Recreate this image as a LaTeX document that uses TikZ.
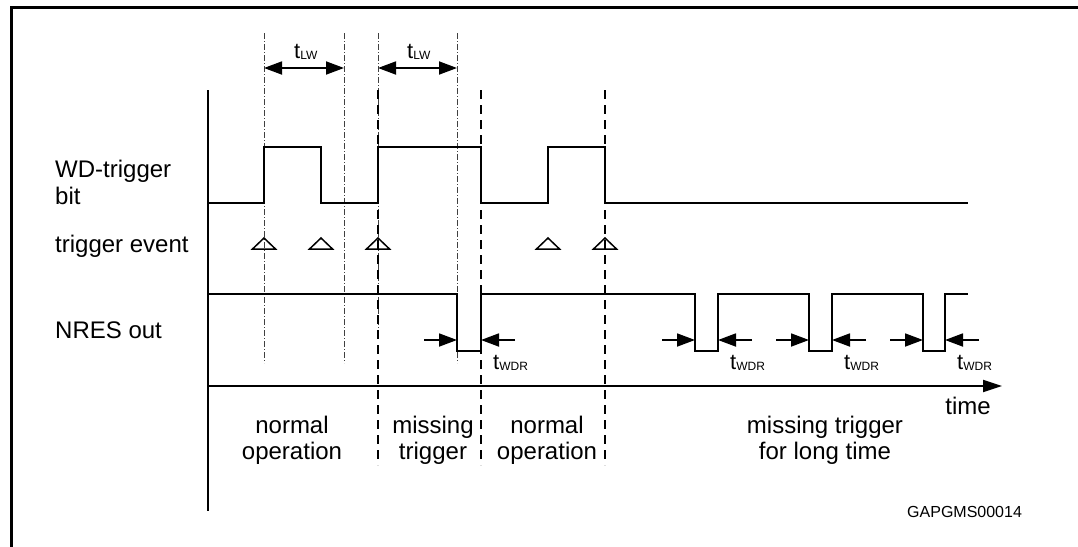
\documentclass[tikz,border=0pt]{standalone}
\usepackage{fontspec}
\setmainfont{Liberation Sans}
\usetikzlibrary{arrows.meta}
\begin{document}
\begin{tikzpicture}[x=1pt,y=-1pt,
  sig/.style={line width=1.8pt},
  ddline/.style={line width=0.8pt, black!75, dash pattern=on 6pt off 2pt on 1pt off 2pt},
  dshline/.style={line width=1.6pt, dash pattern=on 9pt off 6pt},
  trig/.style={line width=1.5pt, line join=miter},
  harr/.style={line width=1.8pt, -{Triangle[length=18pt,width=13pt]}},
  dbl/.style={line width=1.8pt, {Triangle[length=18pt,width=13pt]}-{Triangle[length=18pt,width=13pt]}},
  lbl/.style={font=\fontsize{24}{26}\selectfont, inner sep=0pt},
  small/.style={font=\fontsize{16}{18}\selectfont, inner sep=0pt},
]
\useasboundingbox (0,0) rectangle (1078,546);
% frame
\draw[line width=3pt] (11,560) -- (11,7) -- (1090,7);
% axes
\coordinate (yb) at (208,90);
\coordinate (ye) at (208,511);
\draw[line width=1.8pt] (yb) -- (ye);
\coordinate (tb) at (208,386);
\coordinate (te) at (1002,386);
\draw[line width=1.8pt, -{Triangle[length=19pt,width=12pt]}] (tb) -- (te);
% dash-dot guide lines
\draw[ddline] (264,33) -- (264,363);
\draw[ddline] (344,33) -- (344,363);
\draw[ddline] (378,33) -- (378,330);
\draw[ddline] (457,33) -- (457,363);
% dashed phase separators
\draw[dshline] (378,90) -- (378,465);
\draw[dshline] (481,90) -- (481,465);
\draw[dshline] (605,90) -- (605,465);
% WD-trigger bit
\draw[sig] (208,203) -- (264,203) -- (264,147) -- (321,147) -- (321,203) -- (378,203) -- (378,147) -- (481,147) -- (481,203) -- (548,203) -- (548,147) -- (605,147) -- (605,203) -- (968,203);
% trigger events
\foreach \x in {264,321,378,548,605}
  \draw[trig] (\x-11.5,249) -- (\x,238) -- (\x+11.5,249) -- cycle;
% NRES out
\draw[sig] (208,294) -- (457,294) -- (457,351) -- (481,351) -- (481,294) -- (695,294) -- (695,351) -- (718,351) -- (718,294) -- (809,294) -- (809,351) -- (832,351) -- (832,294) -- (923,294) -- (923,351) -- (945,351) -- (945,294) -- (968,294);
% tLW arrows
\coordinate (lw1a) at (264,68);
\coordinate (lw1b) at (344,68);
\coordinate (lw2a) at (378,68);
\coordinate (lw2b) at (457,68);
\draw[dbl] (lw1a) -- (lw1b);
\draw[dbl] (lw2a) -- (lw2b);
\node[lbl, anchor=base west] (tlw1) at (294,58) {\fontsize{22}{24}\selectfont t\raisebox{-1.5pt}{\fontsize{12}{14}\selectfont LW}};
\node[lbl, anchor=base west] (tlw2) at (407,58) {\fontsize{22}{24}\selectfont t\raisebox{-1.5pt}{\fontsize{12}{14}\selectfont LW}};
% tWDR arrows
\foreach \f/\r [count=\i] in {457/481,695/718,809/832,923/945}{
  \coordinate (wa\i) at (\f-33,340);
  \coordinate (wb\i) at (\f,340);
  \coordinate (wc\i) at (\r+34,340);
  \coordinate (wd\i) at (\r,340);
  \draw[harr] (wa\i) -- (wb\i);
  \draw[harr] (wc\i) -- (wd\i);
  \node[lbl, anchor=base west] (twdr\i) at (\r+12,369) {\fontsize{22}{24}\selectfont t\raisebox{-1.5pt}{\fontsize{12}{14}\selectfont WDR}};
}
% left labels
\node[lbl, anchor=base west] (l1) at (55,177) {WD-trigger};
\node[lbl, anchor=base west] (l2) at (55,204) {bit};
\node[lbl, anchor=base west] (l3) at (55,252) {trigger event};
\node[lbl, anchor=base west] (l4) at (55,338) {NRES out};
% bottom labels
\node[lbl, anchor=base] (n1a) at (292,433) {normal};
\node[lbl, anchor=base] (n1b) at (292,459) {operation};
\node[lbl, anchor=base] (m1a) at (433,433) {missing};
\node[lbl, anchor=base] (m1b) at (433,459) {trigger};
\node[lbl, anchor=base] (n2a) at (547,433) {normal};
\node[lbl, anchor=base] (n2b) at (547,459) {operation};
\node[lbl, anchor=base] (m2a) at (825,433) {missing trigger};
\node[lbl, anchor=base] (m2b) at (825,459) {for long time};
\node[lbl, anchor=base] (time) at (968,414) {time};
\node[small, anchor=base west] (code) at (907,517) {GAPGMS00014};
\end{tikzpicture}
\end{document}
